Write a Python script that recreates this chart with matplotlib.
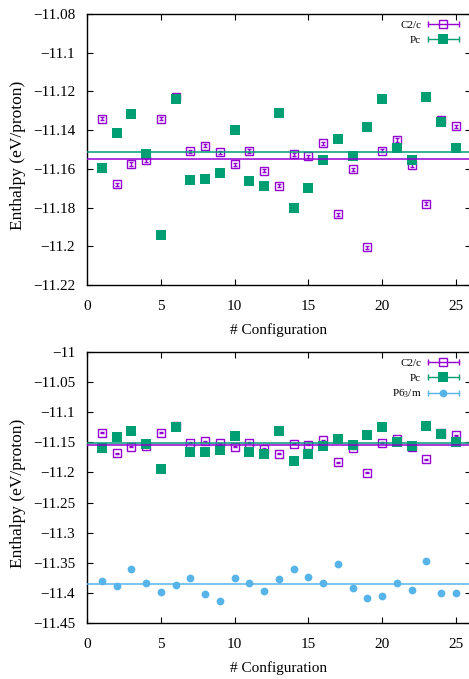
import matplotlib
matplotlib.use("Agg")
import matplotlib.pyplot as plt
from matplotlib.lines import Line2D
from matplotlib.legend_handler import HandlerBase
from matplotlib.ticker import FuncFormatter, MultipleLocator

plt.rcParams['font.family'] = ['Liberation Serif', 'DejaVu Serif']
plt.rcParams['mathtext.fontset'] = 'custom'
plt.rcParams['mathtext.rm'] = 'Liberation Serif'
plt.rcParams['mathtext.it'] = 'Liberation Serif:italic'

# data
configs = list(range(1, 26))
c2c = [-11.1342, -11.1680, -11.1575, -11.1555, -11.1340, -11.1227, -11.1510,
       -11.1480, -11.1515, -11.1577, -11.1508, -11.1610, -11.1687, -11.1525,
       -11.1536, -11.1468, -11.1834, -11.1601, -11.2004, -11.1506, -11.1451,
       -11.1580, -11.1780, -11.1348, -11.1379]
pc = [-11.1597, -11.1417, -11.1318, -11.1521, -11.1944, -11.1240, -11.1660,
      -11.1654, -11.1623, -11.1400, -11.1665, -11.1689, -11.1313, -11.1804,
      -11.1699, -11.1556, -11.1448, -11.1536, -11.1386, -11.1241, -11.1491,
      -11.1556, -11.1227, -11.1360, -11.1493]
p63m = [-11.3810, -11.3885, -11.3605, -11.3834, -11.3985, -11.3873, -11.3751,
        -11.4023, -11.4140, -11.3745, -11.3834, -11.3968, -11.3773, -11.3611,
        -11.3739, -11.3834, -11.3522, -11.3912, -11.4079, -11.4057, -11.3828,
        -11.3957, -11.3477, -11.4002, -11.3996]
c2c_err = [0.0008] * 25
pc_err = [0.0008] * 25
p63m_err = [0.0008] * 25
c2c_mean = -11.1548
pc_mean = -11.1515
p63m_mean = -11.3845

PURPLE = '#9400d3'
GREEN = '#009e73'
BLUE = '#56b4e9'


class KeyHandler(HandlerBase):
    # gnuplot style key sample: horizontal bar with end caps and marker in the middle
    def create_artists(self, legend, orig_handle, xdescent, ydescent,
                       width, height, fontsize, trans):
        y = height / 2 - ydescent
        x0, x1 = -xdescent, width - xdescent
        col = orig_handle.get_color()
        bar = Line2D([x0, x1], [y, y], color=col, lw=1.0, transform=trans)
        caps = Line2D([x0, x1], [y, y], ls='', marker='|', ms=4, mew=1.0,
                      color=col, transform=trans)
        mk = Line2D([(x0 + x1) / 2], [y], ls='', marker=orig_handle.get_marker(),
                    ms=orig_handle.get_markersize(),
                    mfc=orig_handle.get_markerfacecolor(),
                    mec=orig_handle.get_markeredgecolor(),
                    mew=orig_handle.get_markeredgewidth(), transform=trans)
        return [bar, caps, mk]


def fmt(v, pos):
    return ('%g' % round(v, 4)).replace('-', '\u2212')


def style_axes(ax, ylim, ystep):
    ax.set_xlim(0, 26)
    ax.set_ylim(*ylim)
    ax.xaxis.set_major_locator(MultipleLocator(5))
    ax.yaxis.set_major_locator(MultipleLocator(ystep))
    ax.xaxis.set_major_formatter(FuncFormatter(lambda v, p: '%d' % v))
    ax.yaxis.set_major_formatter(FuncFormatter(fmt))
    ax.tick_params(direction='in', top=True, right=True, length=4, width=0.8,
                   labelsize=11)
    ax.tick_params(axis='x', pad=11)
    ax.tick_params(axis='y', pad=8.5)
    for s in ax.spines.values():
        s.set_linewidth(1.0)
    ax.set_xlabel('# Configuration', fontsize=11, labelpad=7)
    ax.set_ylabel('Enthalpy (eV/proton)', fontsize=12.5)
    ax.yaxis.set_label_coords(-0.158, 0.48)


def draw_c2c_pc(ax):
    ax.errorbar(configs, c2c, yerr=c2c_err, fmt='s', ms=6.2, mfc='none',
                mec=PURPLE, mew=1.0, ecolor=PURPLE, elinewidth=1.0,
                capsize=1.5, zorder=3)
    ax.errorbar(configs, pc, yerr=pc_err, fmt='s', ms=6.8, mfc=GREEN,
                mec=GREEN, mew=0, ecolor=GREEN, elinewidth=1.0,
                capsize=1.5, zorder=4)
    ax.axhline(c2c_mean, color=PURPLE, lw=1.1, zorder=5)
    ax.axhline(pc_mean, color=GREEN, lw=1.1, zorder=5)


fig = plt.figure(figsize=(4.69, 6.79), dpi=100)
ax1 = fig.add_axes([87 / 469, 1 - 285 / 679, 383.5 / 469, 271 / 679])
ax2 = fig.add_axes([87 / 469, 1 - 623 / 679, 383.5 / 469, 271 / 679])

draw_c2c_pc(ax1)
style_axes(ax1, (-11.22, -11.08), 0.02)

draw_c2c_pc(ax2)
ax2.errorbar(configs, p63m, yerr=p63m_err, fmt='o', ms=5.6, mfc=BLUE,
             mec=BLUE, mew=0, ecolor=BLUE, elinewidth=1.0, capsize=1.5,
             zorder=4)
ax2.axhline(p63m_mean, color=BLUE, lw=1.1, zorder=5)
style_axes(ax2, (-11.45, -11.0), 0.05)

h_c2c = Line2D([], [], color=PURPLE, marker='s', ms=6.2, mfc='none', mec=PURPLE, mew=1.0)
h_pc = Line2D([], [], color=GREEN, marker='s', ms=6.8, mfc=GREEN, mec=GREEN, mew=0)
h_p63 = Line2D([], [], color=BLUE, marker='o', ms=5.6, mfc=BLUE, mec=BLUE, mew=0)

leg_kw = dict(loc='upper right', bbox_to_anchor=(0.970, 0.978), frameon=False,
              markerfirst=False, fontsize=8, handlelength=2.8,
              handletextpad=0.6, labelspacing=0.45, borderaxespad=0,
              borderpad=0, handler_map={Line2D: KeyHandler()})
ax1.legend([h_c2c, h_pc], ['C2/c', 'Pc'], **leg_kw)
ax2.legend([h_c2c, h_pc, h_p63], ['C2/c', 'Pc', r'P6$_\mathrm{3}$/m'], **leg_kw)

fig.savefig('out.png', dpi=100)
